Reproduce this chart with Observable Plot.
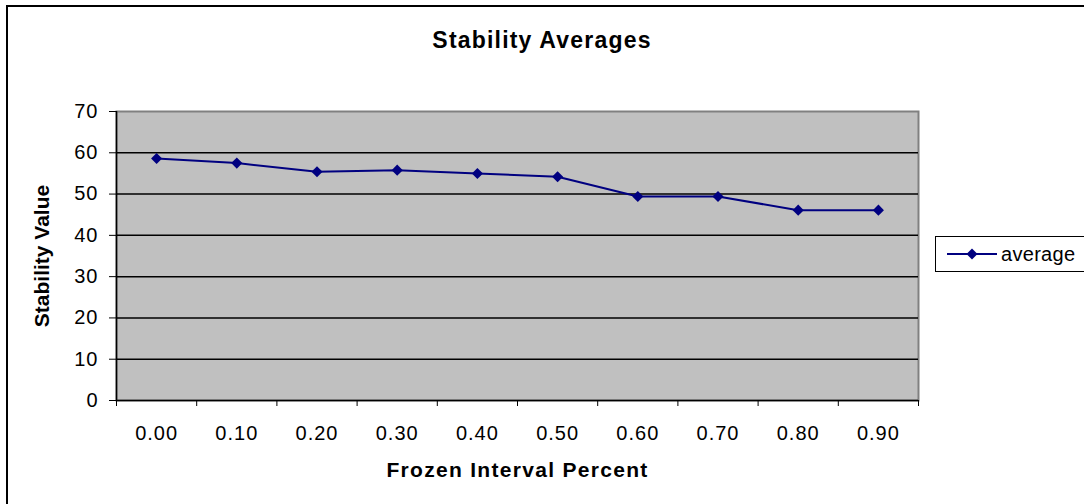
<!DOCTYPE html>
<html><head><meta charset="utf-8">
<script src="https://cdn.jsdelivr.net/npm/d3@7"></script>
<script src="https://cdn.jsdelivr.net/npm/@observablehq/plot@0.6"></script>
<style>
html,body{margin:0;padding:0;background:#fff;overflow:hidden;}
#wrap{position:relative;width:1084px;height:504px;overflow:hidden;font-family:"Liberation Sans",Arial,sans-serif;color:#000;}
#border{position:absolute;left:6px;top:5px;width:1200px;height:600px;border:2px solid #000;}
#title{position:absolute;left:0;width:1084px;top:27px;text-align:center;font-weight:bold;font-size:23px;line-height:26px;letter-spacing:1.2px;}
#legend{position:absolute;left:935px;top:236px;width:160px;height:36px;box-sizing:border-box;border:1.5px solid #000;background:#fff;display:flex;align-items:center;font-size:20px;letter-spacing:0.3px;}
#legend svg{margin-left:11px;margin-right:4px;}
#chart{position:absolute;left:0;top:0;}
#chart svg{display:block;}
g[aria-label="x-axis tick label"] text, g[aria-label="y-axis tick label"] text{letter-spacing:1px;}
g[aria-label="x-axis label"] text{font-weight:bold;font-size:21px;letter-spacing:1.3px;}
g[aria-label="y-axis label"] text{font-weight:bold;font-size:21px;letter-spacing:0px;}
</style></head><body>
<div id="wrap">
  <div id="border"></div>
  <div id="chart"></div>
  <div id="title">Stability Averages</div>
  <div id="legend"></div>
</div>
<script>
const frozen = [0.0, 0.1, 0.2, 0.3, 0.4, 0.5, 0.6, 0.7, 0.8, 0.9];
const xLabels = ["0.00", "0.10", "0.20", "0.30", "0.40", "0.50", "0.60", "0.70", "0.80", "0.90"];
const average = [58.6, 57.5, 55.4, 55.8, 55.0, 54.2, 49.4, 49.4, 46.1, 46.1];
const yTicks = [0, 10, 20, 30, 40, 50, 60, 70];
const seriesName = "average";
const lineColor = "#000080";

const data = frozen.map((f, i) => ({x: f, y: average[i], label: xLabels[i]}));
const step = frozen[1] - frozen[0];
const boundaries = frozen.map(f => f - step / 2).concat([frozen[frozen.length - 1] + step / 2]);
const xDomain = [boundaries[0], boundaries[boundaries.length - 1]];

const chart = Plot.plot({
  width: 1084,
  height: 504,
  marginLeft: 116,
  marginRight: 166,
  marginTop: 111,
  marginBottom: 104,
  style: {fontFamily: "'Liberation Sans', Arial, sans-serif", fontSize: "20px", color: "#000", background: "transparent", overflow: "visible"},
  x: {domain: xDomain},
  y: {domain: [yTicks[0], yTicks[yTicks.length - 1]]},
  marks: [
    Plot.frame({fill: "#c0c0c0", stroke: "#808080", strokeWidth: 2}),
    Plot.gridY(yTicks.slice(1, -1), {stroke: "#000", strokeOpacity: 1, strokeWidth: 1.5}),
    Plot.ruleX([xDomain[0]], {stroke: "#000", strokeWidth: 1.5}),
    Plot.ruleY([yTicks[0]], {stroke: "#000", strokeWidth: 1.5}),
    Plot.axisY(yTicks, {tickSize: 7, tickPadding: 11, label: "Stability Value", labelAnchor: "center", labelArrow: "none", labelOffset: 82}),
    Plot.axisX(boundaries, {tickSize: 6, tickFormat: () => "", label: null}),
    Plot.axisX(frozen, {tickSize: 0, tickPadding: 25, tickFormat: d => xLabels[frozen.indexOf(d)], label: "Frozen Interval Percent", labelAnchor: "center", labelArrow: "none", labelOffset: 76}),
    Plot.line(data, {x: "x", y: "y", stroke: lineColor, strokeWidth: 2}),
    Plot.dot(data, {x: "x", y: "y", symbol: "diamond2", r: 5, fill: lineColor, stroke: "none"})
  ]
});
document.getElementById("chart").appendChild(chart);

// legend
const legend = document.getElementById("legend");
const ns = "http://www.w3.org/2000/svg";
const ls = document.createElementNS(ns, "svg");
ls.setAttribute("width", 50); ls.setAttribute("height", 14);
ls.innerHTML = `<line x1="0" y1="7" x2="50" y2="7" stroke="${lineColor}" stroke-width="2"/><path d="M25,1.5L30.5,7L25,12.5L19.5,7Z" fill="${lineColor}"/>`;
legend.appendChild(ls);
const lt = document.createElement("span");
lt.textContent = seriesName;
legend.appendChild(lt);
</script>
</body></html>
